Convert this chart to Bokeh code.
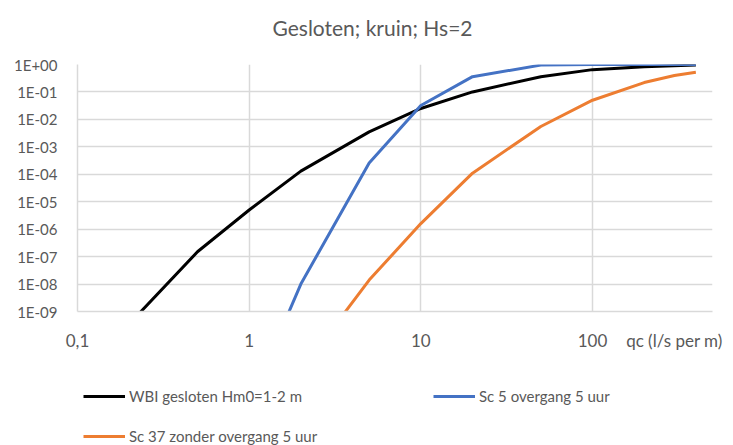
from bokeh.plotting import figure
from bokeh.models import FixedTicker, Legend, LegendItem, Range1d, Label
from bokeh.layouts import column
from bokeh.embed import file_html
from bokeh.resources import INLINE

# ---- data ----
title_text = "Gesloten; kruin; Hs=2"
x_label_text = "qc (l/s per m)"

qc_wbi = [0.2, 0.5, 1, 2, 5, 10, 20, 50, 100, 200, 400]
p_wbi = [3.5e-10, 1.5e-7, 5e-6, 1.3e-4, 3.5e-3, 2.5e-2, 0.1, 0.36, 0.65, 0.82, 0.95]

qc_sc5 = [1.5, 2, 5, 10, 20, 50, 100, 200, 400]
p_sc5 = [1.5e-10, 1e-8, 2.6e-4, 3.2e-2, 0.36, 0.95, 1.0, 1.0, 1.0]

qc_sc37 = [3, 5, 10, 20, 50, 100, 200, 300, 400]
p_sc37 = [2e-10, 1.4e-8, 1.6e-6, 1.1e-4, 5.5e-3, 5e-2, 0.22, 0.4, 0.52]

series_names = ["WBI gesloten Hm0=1-2 m", "Sc 5 overgang 5 uur", "Sc 37 zonder overgang 5 uur"]
series_colors = ["#000000", "#4472C4", "#ED7D31"]

x_tick_vals = [0.1, 1, 10, 100]
x_tick_labels = ["0,1", "1", "10", "100"]
x_title_pos = 300  # where the axis title sits along the axis (data units)
y_tick_vals = [1.0, 1e-1, 1e-2, 1e-3, 1e-4, 1e-5, 1e-6, 1e-7, 1e-8, 1e-9]
y_tick_labels = ["1E+00", "1E-01", "1E-02", "1E-03", "1E-04", "1E-05",
                 "1E-06", "1E-07", "1E-08", "1E-09"]

FONT = "Lato"
TXT = "#595959"
GRID = "#d9d9d9"
xs_all = [qc_wbi, qc_sc5, qc_sc37]
ys_all = [p_wbi, p_sc5, p_sc37]

BL, BR, FW = 77, 21, 635  # shared left/right borders and frame width


def strip(h, xr, yr):
    f = figure(frame_width=FW, frame_height=h, x_range=xr, y_range=yr,
               output_backend="svg", toolbar_location=None,
               x_axis_location=None, y_axis_location=None,
               min_border_left=BL, min_border_right=BR, min_border_top=0, min_border_bottom=0)
    f.outline_line_color = None
    f.xgrid.visible = False
    f.ygrid.visible = False
    return f


# ---------------- title strip ----------------
tt = strip(54, Range1d(BL, BL + FW), Range1d(0, 54))
tt.add_layout(Label(x=372, y=27, text=title_text, text_align="center", text_baseline="middle",
                    text_font=FONT, text_font_size="21px", text_color=TXT))

# ---------------- main chart ----------------
p = figure(frame_width=FW, frame_height=247, x_axis_type="log", y_axis_type="log",
           x_range=Range1d(0.1, 500), y_range=Range1d(1e-9, 1.0),
           output_backend="svg", toolbar_location=None,
           min_border_left=BL, min_border_right=BR, min_border_top=10,
           min_border_bottom=49)
p.outline_line_color = None

for xs, ys, c in zip(xs_all, ys_all, series_colors):
    p.line(xs, ys, line_color=c, line_width=3, line_join="round")

for ax in (p.xaxis[0], p.yaxis[0]):
    ax.axis_line_color = GRID
    ax.axis_line_width = 1.5
    ax.major_tick_line_color = None
    ax.minor_tick_line_color = None
    ax.major_tick_out = 0
    ax.major_tick_in = 0
    ax.major_label_text_font = FONT
    ax.major_label_text_color = TXT

x_axis_ticks = x_tick_vals + [x_title_pos]
x_axis_labels = x_tick_labels + [x_label_text]
p.xaxis.ticker = FixedTicker(ticks=x_axis_ticks, minor_ticks=[])
p.xaxis.major_label_overrides = dict(zip(x_axis_ticks, x_axis_labels))
p.xaxis.major_label_standoff = 18
p.xaxis.major_label_text_font_size = "17px"
p.yaxis.ticker = FixedTicker(ticks=y_tick_vals, minor_ticks=[])
p.yaxis.major_label_overrides = dict(zip(y_tick_vals, y_tick_labels))
p.yaxis.major_label_standoff = 20
p.yaxis.major_label_text_font_size = "15px"

p.xgrid.ticker = FixedTicker(ticks=x_tick_vals, minor_ticks=[])
p.ygrid.ticker = FixedTicker(ticks=y_tick_vals, minor_ticks=[])
for g in (p.xgrid[0], p.ygrid[0]):
    g.grid_line_color = GRID
    g.grid_line_width = 1.5

# ---------------- legend strip ----------------
lg = strip(85, Range1d(1000, 2000), Range1d(10, 20))
leg_renderers = []
for xs, ys, c in zip(xs_all, ys_all, series_colors):
    leg_renderers.append(lg.line(xs, ys, line_color=c, line_width=3))

legend = Legend(items=[LegendItem(label=n, renderers=[r]) for n, r in zip(series_names, leg_renderers)],
                location=(6, -1), orientation="horizontal", ncols=2,
                glyph_width=42, glyph_height=20, label_height=20, label_width=284,
                label_standoff=4, spacing=20, padding=0, margin=0,
                border_line_color=None, background_fill_alpha=0,
                label_text_font=FONT, label_text_font_size="15px", label_text_color=TXT)
lg.add_layout(legend, "center")

open("out.html", "w").write(file_html(column(tt, p, lg, spacing=0), INLINE))
